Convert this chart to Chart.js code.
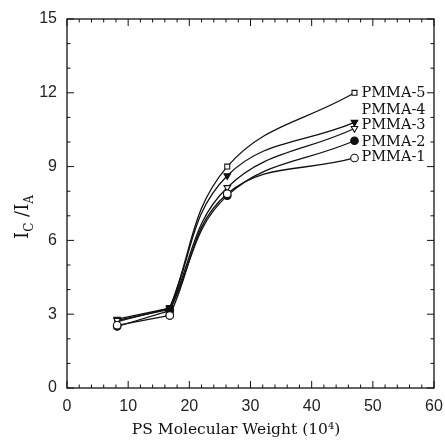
<!DOCTYPE html>
<html>
<head>
<meta charset="utf-8">
<script src="https://cdn.jsdelivr.net/npm/chart.js@4.4.1/dist/chart.umd.min.js"></script>
<style>
  html, body { margin: 0; padding: 0; background: #fff; }
  #wrap { width: 445px; height: 442px; }
</style>
</head>
<body>
<div id="wrap"><canvas id="chart" width="445" height="442"></canvas></div>
<script>
// PS molecular weight (10^4) for each sample
var molWeight = [8.2, 16.8, 26.2, 47];

// I_C / I_A for each PMMA series
var pmma1 = [2.55, 2.95, 7.9, 9.35];
var pmma2 = [2.5, 3.15, 7.82, 10.05];
var pmma3 = [2.75, 3.2, 8.15, 10.55];
var pmma4 = [2.8, 3.25, 8.63, 10.8];
var pmma5 = [2.7, 3.25, 9.0, 12.0];

var seriesNames = ['PMMA-1', 'PMMA-2', 'PMMA-3', 'PMMA-4', 'PMMA-5'];
// where each label sits on the y axis, next to the last point
var labelLevels = [9.4, 10.0, 10.7, 11.3, 12.0];

var xTicks = [0, 10, 20, 30, 40, 50, 60];
var yTicks = [0, 3, 6, 9, 12, 15];

var serif = '"DejaVu Serif", "Liberation Serif", serif';

function toPoints(vals, from, to) {
    var out = [];
    for (var i = from; i <= to; i++) out.push({ x: molWeight[i], y: vals[i] });
    return out;
}

// the low part is joined by straight lines, the rise by a smooth curve
function makeSets(name, vals, style, filled, rot) {
    var common = {
        borderColor: '#111',
        borderWidth: 1.3,
        pointStyle: style,
        pointRotation: rot || 0,
        pointBorderWidth: 1.1,
        pointBorderColor: '#111',
        pointBackgroundColor: filled ? '#111' : '#fff',
        pointRadius: style === 'rect' ? 3.5 : 3.8,
        fill: false
    };
    var straight = Object.assign({}, common, {
        label: name + ' low',
        data: toPoints(vals, 0, 1),
        tension: 0
    });
    var curve = Object.assign({}, common, {
        label: name,
        data: toPoints(vals, 1, vals.length - 1),
        tension: 0.4
    });
    return [straight, curve];
}

// tick marks pointing into the plot on all four sides, plus labels and titles
var frameMarks = {
    id: 'frameMarks',
    afterDatasetsDraw: function(chart) {
        var ctx = chart.ctx;
        var a = chart.chartArea;
        var xs = chart.scales.x, ys = chart.scales.y;
        ctx.save();
        ctx.strokeStyle = '#111';
        ctx.lineWidth = 1.3;
        ctx.strokeRect(a.left, a.top, a.right - a.left, a.bottom - a.top);

        ctx.lineWidth = 1;
        ctx.beginPath();
        for (var v = 0; v <= 60; v += 2) {
            var px = xs.getPixelForValue(v);
            var len = (v % 10 === 0) ? 7 : 3.5;
            ctx.moveTo(px, a.bottom); ctx.lineTo(px, a.bottom - len);
            ctx.moveTo(px, a.top); ctx.lineTo(px, a.top + len);
        }
        for (var w = 0; w <= 15; w += 1) {
            var py = ys.getPixelForValue(w);
            var l2 = (w % 3 === 0) ? 7 : 3.5;
            ctx.moveTo(a.left, py); ctx.lineTo(a.left + l2, py);
            ctx.moveTo(a.right, py); ctx.lineTo(a.right - l2, py);
        }
        ctx.stroke();

        // series labels
        ctx.fillStyle = '#111';
        ctx.font = '14.5px ' + serif;
        ctx.textBaseline = 'middle';
        ctx.textAlign = 'left';
        var lastX = xs.getPixelForValue(molWeight[molWeight.length - 1]);
        seriesNames.forEach(function(n, i) {
            ctx.fillText(n, lastX + 7, ys.getPixelForValue(labelLevels[i]));
        });

        // x title, sitting a little left of the plot centre as in the original
        ctx.font = '15.5px ' + serif;
        ctx.textAlign = 'center';
        ctx.fillText('PS Molecular Weight (10\u2074)', 236, 430);

        // y title: I_C /I_A
        ctx.translate(22, 217);
        ctx.rotate(-Math.PI / 2);
        ctx.textAlign = 'left';
        ctx.textBaseline = 'alphabetic';
        var big = '18px ' + serif;
        var small = '12px ' + serif;
        var parts = [['I', big, 0], ['C', small, 5], [' /I', big, 0], ['A', small, 5]];
        var total = 0;
        parts.forEach(function(p) { ctx.font = p[1]; total += ctx.measureText(p[0]).width; });
        var cx = -total / 2;
        parts.forEach(function(p) {
            ctx.font = p[1];
            ctx.fillText(p[0], cx, 6 + p[2]);
            cx += ctx.measureText(p[0]).width;
        });
        ctx.restore();
    }
};

var datasets = [].concat(
    makeSets('PMMA-1', pmma1, 'circle', false),
    makeSets('PMMA-2', pmma2, 'circle', true),
    makeSets('PMMA-3', pmma3, 'triangle', false, 180),
    makeSets('PMMA-4', pmma4, 'triangle', true, 180),
    makeSets('PMMA-5', pmma5, 'rect', false)
);

var ctx = document.getElementById('chart').getContext('2d');
var chart = new Chart(ctx, {
    type: 'line',
    data: { datasets: datasets },
    options: {
        responsive: false,
        animation: false,
        layout: { padding: { top: 19, right: 11, left: 0, bottom: 0 } },
        plugins: {
            legend: { display: false },
            tooltip: { enabled: false }
        },
        scales: {
            x: {
                type: 'linear',
                min: 0,
                max: 60,
                afterBuildTicks: function(s) { s.ticks = xTicks.map(function(v) { return { value: v }; }); },
                afterFit: function(s) { s.height = 54; s.paddingRight = 0; s.paddingLeft = 0; },
                grid: { display: false, drawTicks: false },
                border: { display: false },
                ticks: {
                    padding: 9,
                    color: '#222',
                    font: { family: '"Liberation Sans", Arial, sans-serif', size: 16 }
                }
            },
            y: {
                min: 0,
                max: 15,
                afterBuildTicks: function(s) { s.ticks = yTicks.map(function(v) { return { value: v }; }); },
                afterFit: function(s) { s.width = 67; s.paddingTop = 0; s.paddingBottom = 0; },
                grid: { display: false, drawTicks: false },
                border: { display: false },
                ticks: {
                    padding: 10,
                    color: '#222',
                    font: { family: '"Liberation Sans", Arial, sans-serif', size: 16 }
                }
            }
        }
    },
    plugins: [frameMarks]
});
</script>
</body>
</html>
